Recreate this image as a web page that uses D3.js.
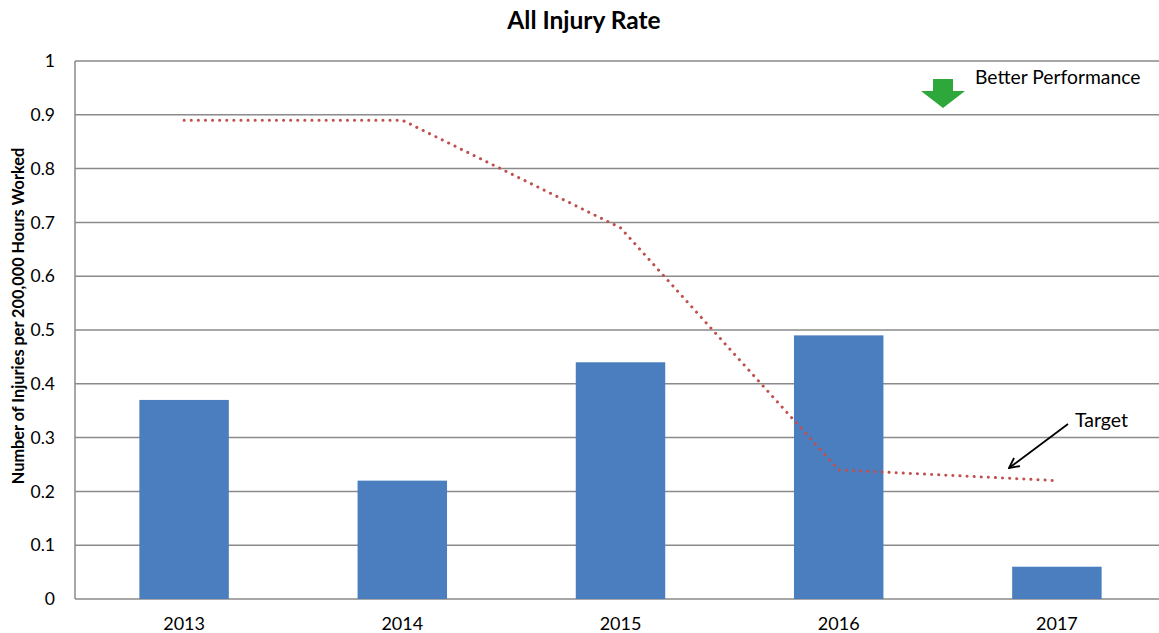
<!DOCTYPE html>
<html>
<head>
<meta charset="utf-8">
<script src="https://cdn.jsdelivr.net/npm/d3@7"></script>
<style>
  html, body { margin: 0; padding: 0; background: #fff; }
  svg { display: block; }
  text { font-family: Lato, "Open Sans", sans-serif; fill: #000; }
</style>
</head>
<body>
<svg id="chart" width="1159" height="633"></svg>
<script>
// Chart data
const years = ["2013", "2014", "2015", "2016", "2017"];
const injuryRate = [0.37, 0.22, 0.44, 0.49, 0.06];
const targetRate = [0.89, 0.89, 0.69, 0.24, 0.22];
const yTicks = [0, 0.1, 0.2, 0.3, 0.4, 0.5, 0.6, 0.7, 0.8, 0.9, 1];

const svg = d3.select("#chart");
const margin = { left: 75, top: 61, bottom: 34 };
const plotW = 1091;
const plotH = 633 - margin.top - margin.bottom;

const g = svg.append("g").attr("transform", `translate(${margin.left},${margin.top})`);

const x = d3.scaleBand().domain(years).range([0, plotW]).paddingInner(0.59).paddingOuter(0.295);
const y = d3.scaleLinear().domain([0, 1]).range([plotH, 0]);

// Horizontal gridlines
g.selectAll("line.grid").data(yTicks).join("line")
  .attr("class", "grid")
  .attr("x1", 0).attr("x2", plotW)
  .attr("y1", d => y(d)).attr("y2", d => y(d))
  .attr("stroke", "#8a8a8a").attr("stroke-width", 1.5);

// Left axis line
g.append("line").attr("x1", 0).attr("x2", 0).attr("y1", 0).attr("y2", plotH)
  .attr("stroke", "#8a8a8a").attr("stroke-width", 1.5);

// Y tick labels
const yAxis = d3.axisLeft(y).tickValues(yTicks).tickSize(0).tickPadding(20)
  .tickFormat(d => d3.format("~g")(d));
g.append("g").call(yAxis).call(a => a.select(".domain").remove())
  .selectAll("text").style("font-size", "17.5px").style("font-family", "Lato, sans-serif").attr("fill", "#222");

// X tick labels
const xAxis = d3.axisBottom(x).tickSize(0).tickPadding(18);
g.append("g").attr("transform", `translate(0,${plotH})`).call(xAxis)
  .call(a => a.select(".domain").remove())
  .selectAll("text").style("font-size", "18px").style("font-family", "Lato, sans-serif").attr("fill", "#222");

// Bars
g.selectAll("rect.bar").data(years).join("rect")
  .attr("class", "bar")
  .attr("x", d => x(d))
  .attr("width", x.bandwidth())
  .attr("y", (d, i) => y(injuryRate[i]))
  .attr("height", (d, i) => plotH - y(injuryRate[i]))
  .attr("fill", "#4a7ebf");

// Target line (dotted)
const line = d3.line()
  .x((d, i) => x(years[i]) + x.bandwidth() / 2)
  .y(d => y(d));
g.append("path").datum(targetRate)
  .attr("d", line)
  .attr("fill", "none")
  .attr("stroke", "#c0504d")
  .attr("stroke-width", 3)
  .attr("stroke-linecap", "round")
  .attr("stroke-dasharray", "0.1 7");

// Title
svg.append("text").attr("x", 584).attr("y", 29).attr("text-anchor", "middle")
  .style("font-size", "24.5px").style("font-weight", "bold").text("All Injury Rate");

// Y axis title
svg.append("text")
  .attr("transform", "translate(24,316) rotate(-90)")
  .attr("text-anchor", "middle")
  .style("font-size", "16.3px").style("font-weight", "bold")
  .text("Number of Injuries per 200,000 Hours Worked");

// Better performance annotation: green block arrow
const ax = 943, aTop = 79;
svg.append("path")
  .attr("d", `M${ax - 10},${aTop} L${ax + 10},${aTop} L${ax + 10},${aTop + 12} L${ax + 22},${aTop + 12} L${ax},${aTop + 29} L${ax - 22},${aTop + 12} L${ax - 10},${aTop + 12} Z`)
  .attr("fill", "#2ea83a");
svg.append("text").attr("x", 975).attr("y", 84)
  .style("font-size", "19.3px").text("Better Performance");

// Target annotation with arrow
svg.append("defs").append("marker")
  .attr("id", "openArrow").attr("viewBox", "0 0 12 12").attr("refX", 11).attr("refY", 6)
  .attr("markerWidth", 12).attr("markerHeight", 12).attr("markerUnits", "userSpaceOnUse")
  .attr("orient", "auto")
  .append("path").attr("d", "M1,1 L11,6 L1,11").attr("fill", "none").attr("stroke", "#000").attr("stroke-width", 1.8);
svg.append("line").attr("x1", 1068).attr("y1", 424).attr("x2", 1009).attr("y2", 468)
  .attr("stroke", "#000").attr("stroke-width", 1.8).attr("marker-end", "url(#openArrow)");
svg.append("text").attr("x", 1075).attr("y", 427)
  .style("font-size", "19.5px").text("Target");
</script>
</body>
</html>
